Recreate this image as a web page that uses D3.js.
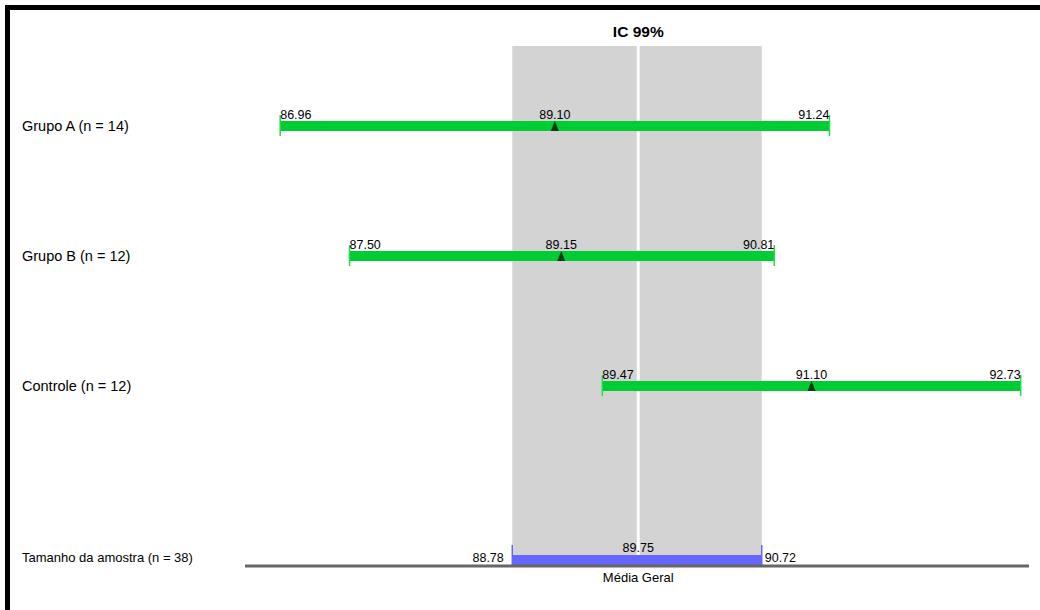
<!DOCTYPE html>
<html><head><meta charset="utf-8">
<script src="https://cdn.jsdelivr.net/npm/d3@7"></script>
<style>body{margin:0;background:#fff}svg{display:block}text{font-family:"Liberation Sans Narrow","Arial Narrow","Liberation Sans",sans-serif}</style>
</head><body><div id="c"></div>
<script>
const categories = ["Grupo A (n = 14)", "Grupo B (n = 12)", "Controle (n = 12)"];
const lowerValues = [86.96, 87.50, 89.47];
const meanValues  = [89.10, 89.15, 91.10];
const upperValues = [91.24, 90.81, 92.73];
const overallLabel = "Tamanho da amostra (n = 38)";
const overallLower = 88.78, overallMean = 89.75, overallUpper = 90.72;
const title = "IC 99%";
const axisLabel = "Média Geral";

const W = 1040, H = 610;
const svg = d3.select("#c").append("svg").attr("width", W).attr("height", H);

const x = d3.scaleLinear().domain([86.96, 92.73]).range([280.2, 1020.7]);
const y = d3.scalePoint().domain(categories).range([126, 386]);
const axisY = 566;
const fmt = d3.format(".2f");

// border
svg.append("rect").attr("x",5).attr("y",5).attr("width",W).attr("height",5).attr("fill","#000");
svg.append("rect").attr("x",5).attr("y",5).attr("width",5).attr("height",H).attr("fill","#000");

// gray CI band
svg.append("rect").attr("x", x(overallLower) - 1.5).attr("y", 46)
  .attr("width", x(overallUpper) - x(overallLower) + 0.5).attr("height", axisY - 46)
  .attr("fill", "#d3d3d3");
svg.append("line").attr("x1", x(overallMean)).attr("x2", x(overallMean))
  .attr("y1", 46).attr("y2", 555).attr("stroke", "#fff").attr("stroke-width", 3);

svg.append("text").attr("x", x(overallMean)).attr("y", 37).attr("text-anchor","middle")
  .attr("font-size", 15.5).attr("font-weight","bold").text(title);

// groups
const g = svg.selectAll("g.grp").data(categories).join("g").attr("class","grp");
g.append("text").attr("x", 22).attr("y", d => y(d)).attr("dy","0.35em")
  .attr("font-size", 14.5).attr("fill","#000").text(d => d);
g.append("rect").attr("x", (d,i) => x(lowerValues[i])).attr("y", d => y(d) - 5)
  .attr("width", (d,i) => x(upperValues[i]) - x(lowerValues[i])).attr("height", 10)
  .attr("fill", "#00cc33");
g.append("line").attr("x1",(d,i)=>x(lowerValues[i])).attr("x2",(d,i)=>x(lowerValues[i]))
  .attr("y1", d => y(d) - 11).attr("y2", d => y(d) + 10).attr("stroke","#22dd44").attr("stroke-width",1.5);
g.append("line").attr("x1",(d,i)=>x(upperValues[i])).attr("x2",(d,i)=>x(upperValues[i]))
  .attr("y1", d => y(d) - 11).attr("y2", d => y(d) + 10).attr("stroke","#22dd44").attr("stroke-width",1.5);
g.append("path").attr("d", (d,i) => {
    const cx = x(meanValues[i]), cy = y(d);
    return `M${cx-4},${cy+5}L${cx},${cy-5}L${cx+4},${cy+5}Z`;
  }).attr("fill", "#0b3d14");
g.append("text").attr("x",(d,i)=>x(lowerValues[i])).attr("y", d => y(d) - 7)
  .attr("font-size", 12.5).text((d,i)=>fmt(lowerValues[i]));
g.append("text").attr("x",(d,i)=>x(upperValues[i])).attr("y", d => y(d) - 7)
  .attr("text-anchor","end").attr("font-size", 12.5).text((d,i)=>fmt(upperValues[i]));
g.append("text").attr("x",(d,i)=>x(meanValues[i])).attr("y", d => y(d) - 7)
  .attr("text-anchor","middle").attr("font-size", 12.5).text((d,i)=>fmt(meanValues[i]));

// overall
svg.append("text").attr("x", 22).attr("y", 557).attr("dy","0.35em").attr("font-size", 13).text(overallLabel);
svg.append("rect").attr("x", x(overallLower) - 1.5).attr("y", 555)
  .attr("width", x(overallUpper) - x(overallLower) + 0.5).attr("height", 10).attr("fill", "#6666ff");
[overallLower - 1.5/128, overallUpper - 1/128].forEach(v => {
  svg.append("line").attr("x1", x(v)).attr("x2", x(v)).attr("y1", 545).attr("y2", 565)
    .attr("stroke", "#6666ff").attr("stroke-width", 1.5);
});
svg.append("line").attr("x1", 245).attr("x2", 1029).attr("y1", axisY).attr("y2", axisY)
  .attr("stroke", "#666").attr("stroke-width", 3);
svg.append("text").attr("x", x(overallLower) - 10).attr("y", 562).attr("text-anchor","end")
  .attr("font-size", 12.5).text(fmt(overallLower));
svg.append("text").attr("x", x(overallUpper) + 2).attr("y", 562)
  .attr("font-size", 12.5).text(fmt(overallUpper));
svg.append("text").attr("x", x(overallMean)).attr("y", 552).attr("text-anchor","middle")
  .attr("font-size", 12.5).text(fmt(overallMean));
svg.append("text").attr("x", x(overallMean)).attr("y", 582).attr("text-anchor","middle")
  .attr("font-size", 13).text(axisLabel);
</script></body></html>
